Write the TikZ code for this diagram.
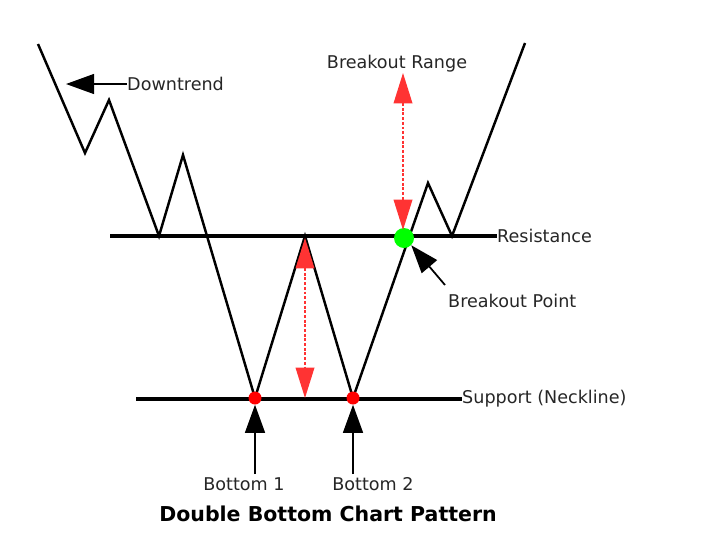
\documentclass[tikz,border=0pt]{standalone}
\usepackage{fontspec}
\setmainfont{DejaVu Sans}
\usetikzlibrary{arrows.meta}

\begin{document}
\begin{tikzpicture}[x=0.03cm,y=-0.03cm,
    price/.style={line width=2.1pt},
    level/.style={line width=2.9pt},
    blackarrow/.style={line width=1.5pt,-{Triangle[length=24pt,width=17pt]}},
    redarrow/.style={draw=red!80!white,line width=1.2pt,dash pattern=on 2.5pt off 1.5pt,
        {Triangle[length=26pt,width=16pt,fill=red!80!white]}-{Triangle[length=26pt,width=16pt,fill=red!80!white]}},
    lbl/.style={font=\fontsize{15}{17}\selectfont,inner sep=0pt,text=black!85}]
        \useasboundingbox (0,0) rectangle (710,554);

        % price path
        \coordinate (P0) at (38,44);
        \coordinate (P1) at (85,153);
        \coordinate (P2) at (109,100);
        \coordinate (P3) at (159,236);
        \coordinate (P4) at (183,155);
        \coordinate (B1) at (255,398); % bottom 1
        \coordinate (T) at (305,236);  % top between the bottoms
        \coordinate (B2) at (353,398); % bottom 2
        \coordinate (P5) at (428,183);
        \coordinate (P6) at (452,236);
        \coordinate (P7) at (525,43);

        % levels
        \coordinate (R1) at (110,236);
        \coordinate (R2) at (497,236);
        \coordinate (S1) at (136,399);
        \coordinate (S2) at (462,399);

        \draw[level] (R1) -- (R2);
        \draw[level] (S1) -- (S2);
        \draw[price] (P0) -- (P1) -- (P2) -- (P3) -- (P4) -- (B1) -- (T) -- (B2) -- (P5) -- (P6) -- (P7);

        \node[lbl,anchor=west] (res) at (R2) {Resistance};
        \node[lbl,anchor=west] (sup) at (S2) {Support (Neckline)};

        % downtrend
        \coordinate (dtip) at (66,84);
        \node[lbl,anchor=west] (down) at (127,84) {Downtrend};
        \draw[blackarrow] (down.west) -- (dtip);

        % breakout
        \node[circle,fill=green,minimum size=20*0.03cm,inner sep=0pt] (bp) at (404,238) {};
        \node[lbl] (range) at (397,64) {Breakout Range};
        \coordinate (rtop) at (403,73);
        \coordinate (rbot) at (403,230);
        \draw[redarrow] (rtop) -- (rbot);

        \node[lbl,anchor=west] (point) at (448,301) {Breakout Point};
        \coordinate (ptail) at (445,285);
        \draw[blackarrow] (ptail) -- (bp.south east);

        % height of the pattern
        \coordinate (htop) at (305,238);
        \coordinate (hbot) at (305,398);
        \draw[redarrow] (htop) -- (hbot);

        % bottoms
        \node[circle,fill=red,minimum size=13*0.03cm,inner sep=0pt] (d1) at (B1) {};
        \node[circle,fill=red,minimum size=13*0.03cm,inner sep=0pt] (d2) at (B2) {};
        \node[lbl] (bot1) at (244,484) {Bottom 1};
        \node[lbl] (bot2) at (373,484) {Bottom 2};
        \coordinate (t1) at (255,474);
        \coordinate (t2) at (353,474);
        \draw[blackarrow] (t1) -- (d1.south);
        \draw[blackarrow] (t2) -- (d2.south);

        \node[font=\bfseries\fontsize{17.5}{20}\selectfont,inner sep=0pt] (title) at (328,514) {Double Bottom Chart Pattern};
    \end{tikzpicture}
\end{document}
